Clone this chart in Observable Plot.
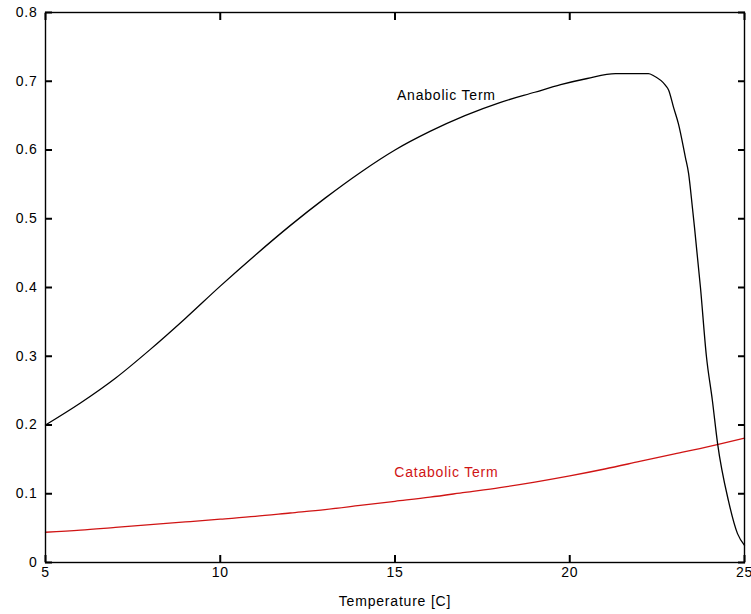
<!DOCTYPE html>
<html>
<head>
<meta charset="utf-8">
<script src="https://cdn.jsdelivr.net/npm/d3@7"></script>
<script src="https://cdn.jsdelivr.net/npm/@observablehq/plot@0.6"></script>
<style>
  html, body { margin: 0; padding: 0; background: #fff; }
  svg { font-family: "Liberation Sans", Arial, sans-serif; }
</style>
</head>
<body>
<div id="chart"></div>
<script>
// Data
const anabolicX = [5, 6, 7, 8, 9, 10, 11, 12, 13, 14, 15, 16, 17, 18, 19, 19.74, 20.5, 21.31, 22.25, 22.4, 22.74, 22.83, 22.97, 23.11, 23.31, 23.4, 23.51, 23.57, 23.74, 23.91, 24.08, 24.23, 24.54, 24.8, 25];
const anabolicY = [0.200, 0.232, 0.268, 0.310, 0.355, 0.402, 0.447, 0.490, 0.530, 0.567, 0.600, 0.627, 0.650, 0.669, 0.684, 0.695, 0.704, 0.711, 0.711, 0.708, 0.694, 0.687, 0.662, 0.638, 0.589, 0.566, 0.516, 0.487, 0.400, 0.300, 0.236, 0.173, 0.090, 0.042, 0.025];

const catabolicX = [5, 6, 7, 8, 9, 10, 11, 12, 13, 14, 15, 16, 17, 18, 19, 20, 21, 22, 23, 24, 25];
const catabolicY = [0.044, 0.047, 0.051, 0.055, 0.059, 0.063, 0.067, 0.072, 0.077, 0.083, 0.089, 0.095, 0.102, 0.109, 0.117, 0.126, 0.136, 0.147, 0.158, 0.169, 0.181];

const xTicks = [5, 10, 15, 20, 25];
const yTicks = [0, 0.1, 0.2, 0.3, 0.4, 0.5, 0.6, 0.7, 0.8];
const xDomain = [5, 25];
const yDomain = [0, 0.8];

const labels = [
  {x: 16.47, y: 0.679, text: "Anabolic Term", color: "black"},
  {x: 16.47, y: 0.131, text: "Catabolic Term", color: "#d01414"}
];
const xLabel = "Temperature [C]";

const anabolic = anabolicX.map((x, i) => ({x, y: anabolicY[i]}));
const catabolic = catabolicX.map((x, i) => ({x, y: catabolicY[i]}));

const fmt = d => String(d);
const noText = () => "";
const T = -7; // negative tick size: ticks point inward

const tickStyle = {tickSize: T, tickFormat: noText, label: null, stroke: "black", strokeWidth: 2};

const chart = Plot.plot({
  width: 751,
  height: 614,
  marginLeft: 45,
  marginRight: 7,
  marginTop: 12,
  marginBottom: 52,
  style: {fontSize: "14px", letterSpacing: "0.8px", color: "black", background: "white"},
  x: {domain: xDomain},
  y: {domain: yDomain},
  marks: [
    Plot.line(catabolic, {x: "x", y: "y", stroke: "#d01414", strokeWidth: 1.3, curve: "monotone-x"}),
    Plot.line(anabolic, {x: "x", y: "y", stroke: "black", strokeWidth: 1.3, curve: "monotone-x"}),
    Plot.text(labels, {x: "x", y: "y", text: "text", fill: "color", fontSize: 14}),
    Plot.frame({stroke: "black", strokeWidth: 1.4}),
    // inward tick marks on all four sides
    Plot.axisY(yTicks, {anchor: "left", ...tickStyle}),
    Plot.axisY(yTicks, {anchor: "right", ...tickStyle}),
    Plot.axisX(xTicks, {anchor: "bottom", ...tickStyle}),
    Plot.axisX(xTicks, {anchor: "top", ...tickStyle}),
    // tick labels
    Plot.axisY(yTicks, {anchor: "left", tickSize: 0, tickPadding: 8, tickFormat: fmt, label: null, fontSize: 14}),
    Plot.axisX(xTicks, {anchor: "bottom", tickSize: 0, tickPadding: 5, tickFormat: fmt, label: null, fontSize: 14}),
    Plot.text([xLabel], {frameAnchor: "bottom", text: d => d, dy: 39, lineAnchor: "middle", fontSize: 14, fill: "black"})
  ]
});
document.getElementById("chart").appendChild(chart);
</script>
</body>
</html>
